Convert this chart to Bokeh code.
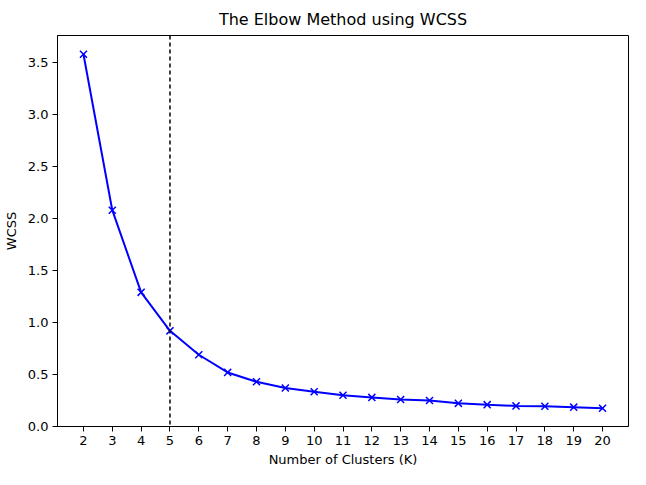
from bokeh.plotting import figure
from bokeh.models import Span, FixedTicker, Range1d, PrintfTickFormatter
from bokeh.embed import file_html
from bokeh.resources import INLINE

k_values = list(range(2, 21))
wcss = [3.58, 2.08, 1.29, 0.92, 0.69, 0.52, 0.43, 0.37, 0.334, 0.30, 0.28, 0.26,
        0.25, 0.223, 0.21, 0.198, 0.195, 0.186, 0.176]
elbow_k = 5
y_ticks = [0.0, 0.5, 1.0, 1.5, 2.0, 2.5, 3.0, 3.5]

p = figure(width=630, height=469, output_backend="svg", toolbar_location=None,
           x_range=Range1d(1.1, 20.9), y_range=Range1d(0, 3.76),
           min_border_left=50, min_border_right=2, min_border_top=0, min_border_bottom=0)
p.title.text = "The Elbow Method using WCSS"
p.title.align = "center"
p.title.text_font = "DejaVu Sans"
p.title.text_font_size = "16px"
p.title.text_font_style = "normal"
p.title.text_color = "black"
p.title.offset = 0
p.title.standoff = 14

p.line(k_values, wcss, line_color="#0000ff", line_width=2)
p.scatter(k_values, wcss, marker="x", size=10, line_color="#0000ff", line_width=1.5)

p.add_layout(Span(location=elbow_k, dimension="height", line_color="black",
                  line_dash="4 3", line_width=1.5))

p.xaxis.ticker = FixedTicker(ticks=k_values)
p.yaxis.ticker = FixedTicker(ticks=y_ticks)
p.yaxis.formatter = PrintfTickFormatter(format="%.1f")
p.xaxis.axis_label = "Number of Clusters (K)"
p.yaxis.axis_label = "WCSS"
for ax in (p.xaxis, p.yaxis):
    ax.axis_label_text_font = "DejaVu Sans"
    ax.axis_label_text_font_size = "13px"
    ax.axis_label_text_font_style = "normal"
    ax.major_label_text_font = "DejaVu Sans"
    ax.major_label_text_font_size = "13px"
    ax.major_label_standoff = 4
    ax.major_tick_out = 5
    ax.major_tick_in = 0
    ax.minor_tick_out = 0
    ax.minor_tick_in = 0
    ax.axis_line_color = "black"
    ax.major_tick_line_color = "black"
    ax.major_label_text_color = "black"
    ax.axis_label_text_color = "black"
p.xaxis.axis_label_standoff = 4
p.yaxis.axis_label_standoff = 6
p.xgrid.visible = False
p.ygrid.visible = False
p.outline_line_color = "black"
p.outline_line_width = 1
p.outline_line_alpha = 1

open("out.html", "w").write(file_html(p, INLINE))
